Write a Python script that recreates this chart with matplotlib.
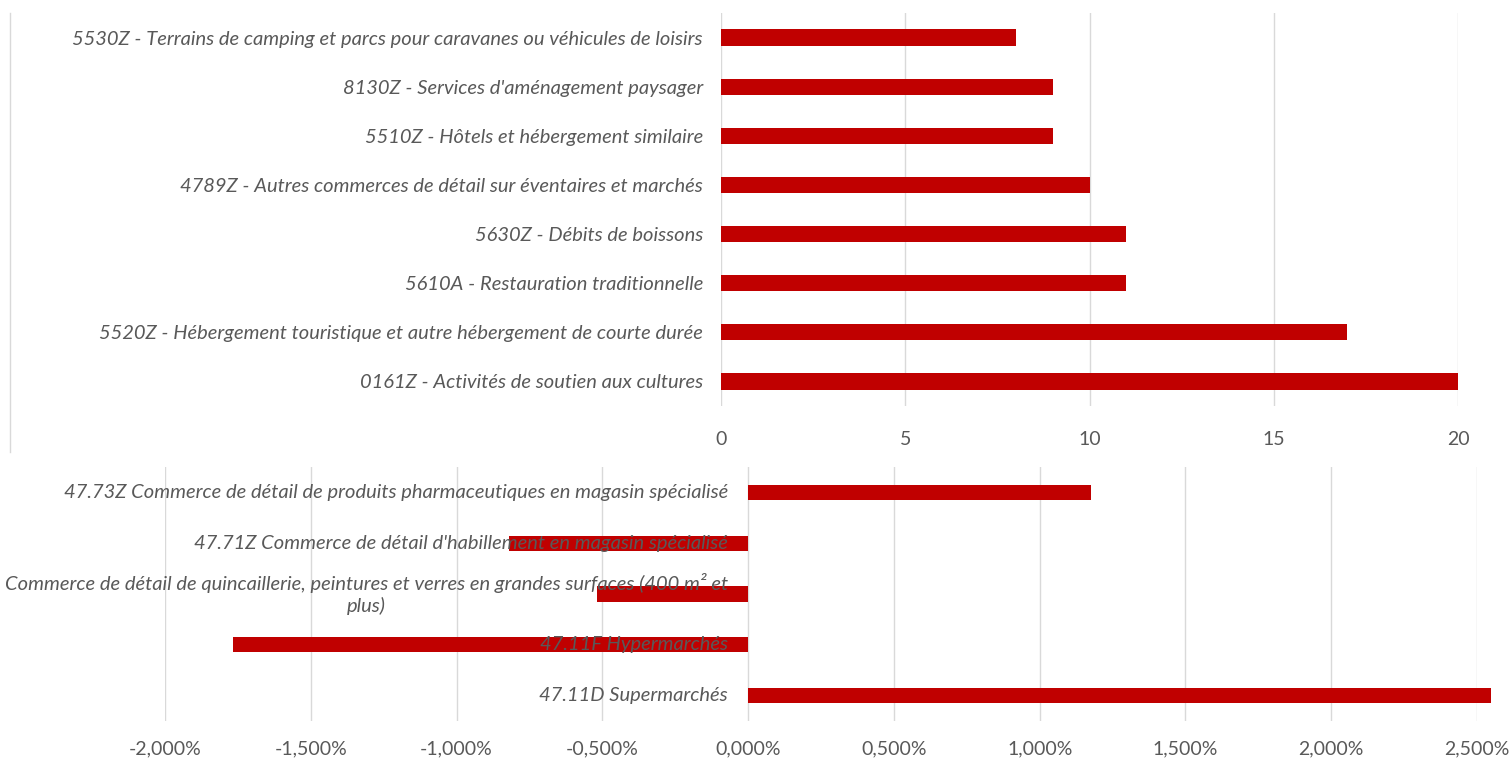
import matplotlib
matplotlib.use("Agg")
import matplotlib.pyplot as plt
from matplotlib.ticker import FuncFormatter
from matplotlib.lines import Line2D
import matplotlib.transforms as mtrans

# ---- data ----
top_labels = [
    "5530Z - Terrains de camping et parcs pour caravanes ou véhicules de loisirs",
    "8130Z - Services d'aménagement paysager",
    "5510Z - Hôtels et hébergement similaire",
    "4789Z - Autres commerces de détail sur éventaires et marchés",
    "5630Z - Débits de boissons",
    "5610A - Restauration traditionnelle",
    "5520Z - Hébergement touristique et autre hébergement de courte durée",
    "0161Z - Activités de soutien aux cultures",
]
top_values = [8, 9, 9, 10, 11, 11, 17, 20]
top_ticks = [0, 5, 10, 15, 20]

bot_labels = [
    "47.73Z Commerce de détail de produits pharmaceutiques en magasin spécialisé",
    "47.71Z Commerce de détail d'habillement en magasin spécialisé",
    "Commerce de détail de quincaillerie, peintures et verres en grandes surfaces (400 m² et\nplus)",
    "47.11F Hypermarchés",
    "47.11D Supermarchés",
]
bot_values = [1.176, -0.82, -0.518, -1.766, 2.548]
bot_ticks = [-2.0, -1.5, -1.0, -0.5, 0.0, 0.5, 1.0, 1.5, 2.0, 2.5]

RED = "#C00000"
GRAY = "#595959"
GRID = "#D9D9D9"
FONT = "Lato"
LABEL_SIZE = 14.5
W, H = 1511, 760

fig = plt.figure(figsize=(W / 100, H / 100), dpi=100)

def ax_rect(x0, x1, y0, y1):
    return [x0 / W, 1 - y1 / H, (x1 - x0) / W, (y1 - y0) / H]

# ---- top chart ----
ax1 = fig.add_axes(ax_rect(721, 1458, 13, 406))
n = len(top_values)
ypos = list(range(n))
ax1.barh(ypos, top_values, height=0.33, color=RED, zorder=2)
ax1.set_ylim(n - 0.5, -0.5)
ax1.set_xlim(0, 20)
ax1.set_xticks(top_ticks)
ax1.set_yticks(ypos)
ax1.set_yticklabels(top_labels, fontstyle="italic", fontfamily=FONT,
                    fontsize=LABEL_SIZE, color=GRAY)
ax1.tick_params(axis="y", length=0, pad=13)
ax1.tick_params(axis="x", length=0, pad=18, labelsize=14, labelcolor=GRAY)
for lab in ax1.get_xticklabels():
    lab.set_fontfamily(FONT)
ax1.grid(axis="x", color=GRID, linewidth=1, zorder=0)
ax1.set_axisbelow(True)
for s in ax1.spines.values():
    s.set_visible(False)

# chart border line on the left of the top chart
fig.add_artist(Line2D([10 / W, 10 / W], [1 - 13 / H, 1 - 452 / H],
                      color=GRID, linewidth=1))

# ---- bottom chart ----
ax2 = fig.add_axes(ax_rect(165, 1477, 467, 721))
m = len(bot_values)
ypos2 = list(range(m))
bars = ax2.barh(ypos2, bot_values, height=0.3, color=RED, zorder=2)
for b in bars:
    b.set_clip_on(False)
ax2.set_ylim(m - 0.5, -0.5)
ax2.set_xlim(-2.0, 2.5)
ax2.set_xticks(bot_ticks)
ax2.xaxis.set_major_formatter(FuncFormatter(lambda v, p: f"{v:.3f}%".replace(".", ",")))
ax2.set_yticks([])
ax2.tick_params(axis="x", length=0, pad=14, labelsize=14, labelcolor=GRAY)
for lab in ax2.get_xticklabels():
    lab.set_fontfamily(FONT)
ax2.grid(axis="x", color=GRID, linewidth=1, zorder=0)
ax2.set_axisbelow(True)
for s in ax2.spines.values():
    s.set_visible(False)

offset = mtrans.offset_copy(ax2.transData, fig=fig, x=-20, y=0, units="dots")
for yi, lab in zip(ypos2, bot_labels):
    ax2.text(0, yi, lab, transform=offset, ha="right", va="center",
             multialignment="center", fontstyle="italic", fontfamily=FONT,
             fontsize=LABEL_SIZE, color=GRAY, zorder=5, linespacing=1.25)

fig.savefig("out.png", dpi=100)
